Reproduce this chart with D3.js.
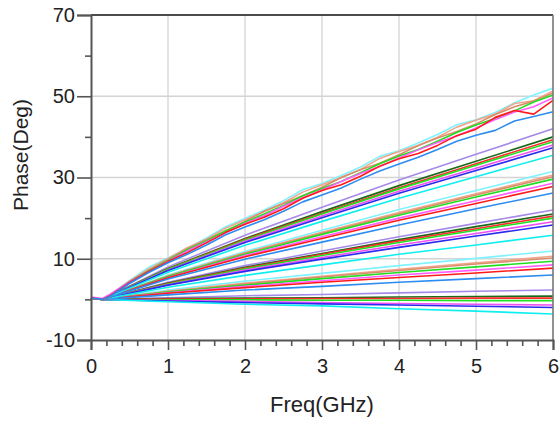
<!DOCTYPE html>
<html><head><meta charset="utf-8">
<script src="https://cdn.jsdelivr.net/npm/d3@7"></script>
<style>
html,body{margin:0;padding:0;background:#fff;}
svg{display:block;font-family:"Liberation Sans",Arial,sans-serif;}
</style></head>
<body><svg id="c" width="560" height="424"></svg>
<script>
// ---- data ----
const xTicks = [0,1,2,3,4,5,6];
const yTicks = [-10,10,30,50,70];
const yMinorTicks = [0,20,40,60];
const xMinorTicks = [0.2,0.4,0.6,0.8,1.2,1.4,1.6,1.8,2.2,2.4,2.6,2.8,3.2,3.4,3.6,3.8,4.2,4.4,4.6,4.8,5.2,5.4,5.6,5.8];
const xLabel = "Freq(GHz)";
const yLabel = "Phase(Deg)";

// dense frequency grid for the noisy upper group
const freqFine = [0,0.15,0.25,0.5,0.75,1,1.25,1.5,1.75,2,2.25,2.5,2.75,3,3.25,3.5,3.75,4,4.25,4.5,4.75,5,5.25,5.5,5.75,6];
// coarse frequency grid for the smoother groups
const freqCoarse = [0,0.15,1,2,3,4,5,6];

const colorsA = ["#7ff3ff","#f0a68c","#d98e6a","#22dd22","#ff5cff","#ff1a1a","#2c8cf0"];
const colorsB = ["#a58ae8","#1b6a1b","#ff2a2a","#22e022","#f050f0","#2a2af0","#10eeee"];

const group1 = [
  [0.3,0,1.2,4.6,7.9,10.2,12.6,15.1,17.9,19.9,22.0,24.3,27.0,28.5,30.5,32.6,35.2,36.6,38.5,40.6,43.0,44.2,46.0,48.4,50.3,52.0],
  [0.3,0,1.1,4.5,7.5,10.0,12.7,14.8,17.5,19.6,21.6,23.8,26.4,28.2,30.0,32.0,34.7,36.4,37.9,39.9,42.4,44.1,45.6,48.2,48.9,51.3],
  [0.3,0,1.0,4.4,7.2,9.8,12.4,14.7,16.8,19.2,21.7,23.6,25.5,27.6,30.0,31.9,33.5,35.6,37.9,39.7,41.3,43.2,45.5,47.4,48.8,50.8],
  [0.3,0,1.0,4.3,7.0,9.6,12.2,14.4,16.9,19.0,21.0,23.1,25.5,27.3,29.0,31.2,33.4,35.3,36.9,38.9,41.1,42.9,44.5,46.4,48.6,50.3],
  [0.6,0.2,1.3,4.3,6.8,9.4,11.9,14.1,16.4,18.7,20.6,22.9,25.0,26.9,29.0,31.0,32.7,34.8,36.8,38.6,40.2,42.2,44.3,46.1,47.4,49.6],
  [0.3,0,0.9,4.1,6.9,9.3,11.5,13.9,16.5,18.5,20.2,22.3,24.9,26.8,28.2,30.3,32.8,34.6,35.9,37.9,40.3,41.9,44.8,46.5,45.6,49.0],
  [0.3,0,0.8,3.9,6.6,9.0,11.1,13.4,15.9,17.8,19.6,21.7,24.0,25.7,27.4,29.6,31.6,33.3,35.0,36.9,38.9,40.4,41.6,43.9,45.0,46.2]
];
const group2 = [
  [0.3,0,8.0,15.8,22.7,29.4,35.7,42.0],
  [0.3,0,7.6,15.0,21.6,28.0,34.0,40.0],
  [0.3,0,7.5,14.8,21.2,27.5,33.4,39.3],
  [0.3,0,7.4,14.6,21.0,27.2,33.0,38.8],
  [0.3,0,7.2,14.3,20.5,26.6,32.3,38.0],
  [0.3,0,7.1,14.0,20.1,26.1,31.7,37.3],
  [0.3,0,6.7,13.3,19.2,24.9,30.2,35.5]
];
const group3 = [
  [0.3,0,6.0,11.8,17.0,22.1,26.8,31.5],
  [0.3,0,5.8,11.5,16.5,21.4,26.0,30.6],
  [0.3,0,5.7,11.4,16.3,21.1,25.7,30.2],
  [0.3,0,5.6,11.1,16.0,20.7,25.2,29.6],
  [0.3,0,5.4,10.8,15.4,20.0,24.3,28.6],
  [0.3,0,5.3,10.5,15.0,19.5,23.6,27.8],
  [0.3,0,5.0,9.9,14.1,18.3,22.3,26.2]
];
const group4 = [
  [0.3,0,4.2,8.3,11.9,15.4,18.7,22.0],
  [0.3,0,4.0,7.9,11.3,14.7,17.9,21.0],
  [0.3,0,3.9,7.7,11.1,14.4,17.4,20.5],
  [0.3,0,3.8,7.5,10.8,14.0,17.0,20.0],
  [0.3,0,3.6,7.2,10.3,13.4,16.2,19.1],
  [0.3,0,3.5,6.9,9.9,12.8,15.6,18.3],
  [0.3,0,3.0,5.9,8.5,11.1,13.4,15.8]
];
const group5 = [
  [0.3,0,2.3,4.5,6.4,8.3,10.1,11.9],
  [0.3,0,2.0,4.0,5.7,7.4,9.0,10.6],
  [0.3,0,1.9,3.8,5.5,7.1,8.7,10.2],
  [0.3,0,1.8,3.5,5.1,6.6,8.0,9.4],
  [0.3,0,1.6,3.2,4.6,6.0,7.2,8.5],
  [0.3,0,1.5,2.9,4.2,5.4,6.5,7.7],
  [0.3,0,1.1,2.3,3.2,4.2,5.1,6.0]
];
const group6 = [
  [0.3,0,0.4,0.9,1.2,1.6,2.0,2.3],
  [0.3,0,0.2,0.3,0.4,0.6,0.7,0.8],
  [0.3,0,0.1,0.1,0.2,0.2,0.3,0.3],
  [0.3,0,-0.1,-0.1,-0.2,-0.2,-0.3,-0.3],
  [0.3,0,-0.3,-0.5,-0.8,-1.0,-1.2,-1.4],
  [0.3,0,-0.4,-0.8,-1.1,-1.4,-1.7,-2.0],
  [0.3,0,-0.6,-1.2,-1.6,-2.3,-2.9,-3.6]
];

// ---- build series table ----
const series = [];
function addGroup(g, freqs, colors){
  g.forEach((vals,i)=>series.push({freqs, vals, color: colors[i]}));
}
addGroup(group6, freqCoarse, colorsB);
addGroup(group5, freqCoarse, colorsA);
addGroup(group4, freqCoarse, colorsB);
addGroup(group3, freqCoarse, colorsA);
addGroup(group2, freqCoarse, colorsB);
addGroup(group1, freqFine, colorsA);

// ---- chart ----
const svg = d3.select("#c");
const L=91, R=553, T=15, B=340;
const x = d3.scaleLinear().domain([0,6]).range([L,R]);
const y = d3.scaleLinear().domain([-10,70]).range([B,T]);

// grid
const grid = svg.append("g").attr("stroke","#d4d4d4").attr("stroke-width",1.3);
grid.selectAll("line.v").data(xTicks.filter(d=>d>0&&d<6)).join("line")
  .attr("x1",d=>x(d)).attr("x2",d=>x(d)).attr("y1",T).attr("y2",B);
grid.selectAll("line.h").data(yTicks.filter(d=>d>-10&&d<70)).join("line")
  .attr("y1",d=>y(d)).attr("y2",d=>y(d)).attr("x1",L).attr("x2",R);

// lines
const line = d3.line().x(d=>x(d[0])).y(d=>y(d[1]));
svg.append("g").selectAll("path").data(series).join("path")
  .attr("fill","none")
  .attr("stroke",d=>d.color)
  .attr("stroke-width",1.6)
  .attr("stroke-linejoin","round")
  .attr("d",d=>line(d.freqs.map((f,i)=>[f,d.vals[i]])));

// frame
svg.append("line").attr("x1",L).attr("x2",R).attr("y1",T).attr("y2",T)
  .attr("stroke","#111").attr("stroke-width",1.3);
svg.append("line").attr("x1",R).attr("x2",R).attr("y1",T).attr("y2",B)
  .attr("stroke","#777").attr("stroke-width",1.6);

// axes
const axisColor="#555";
const fmt = d=>String(d);
const yAxis = svg.append("g").attr("transform",`translate(${L},0)`)
  .call(d3.axisLeft(y).tickValues(yTicks).tickSize(14).tickPadding(2).tickFormat(fmt));
const yMinor = svg.append("g").attr("transform",`translate(${L},0)`)
  .call(d3.axisLeft(y).tickValues(yMinorTicks).tickSize(6).tickFormat(""));
const xAxis = svg.append("g").attr("transform",`translate(0,${B})`)
  .call(d3.axisBottom(x).tickValues(xTicks).tickSize(10).tickPadding(9).tickFormat(fmt));
const xMinor = svg.append("g").attr("transform",`translate(0,${B})`)
  .call(d3.axisBottom(x).tickValues(xMinorTicks).tickSize(6).tickFormat(""));

[yAxis,yMinor,xAxis,xMinor].forEach(g=>{
  g.select(".domain").attr("stroke",axisColor).attr("stroke-width",2);
  g.selectAll(".tick line").attr("stroke",axisColor).attr("stroke-width",1.6);
  g.selectAll(".tick text").attr("fill","#222").attr("font-size",20)
    .attr("font-family","Liberation Sans, Arial, sans-serif");
});
yMinor.select(".domain").remove();
xMinor.select(".domain").remove();

// titles
svg.append("text").attr("x",(L+R)/2).attr("y",412).attr("text-anchor","middle")
  .attr("font-size",22).attr("fill","#222").text(xLabel);
svg.append("text").attr("transform",`translate(28,155) rotate(-90)`)
  .attr("text-anchor","middle").attr("font-size",21).attr("fill","#222").text(yLabel);
</script></body></html>
